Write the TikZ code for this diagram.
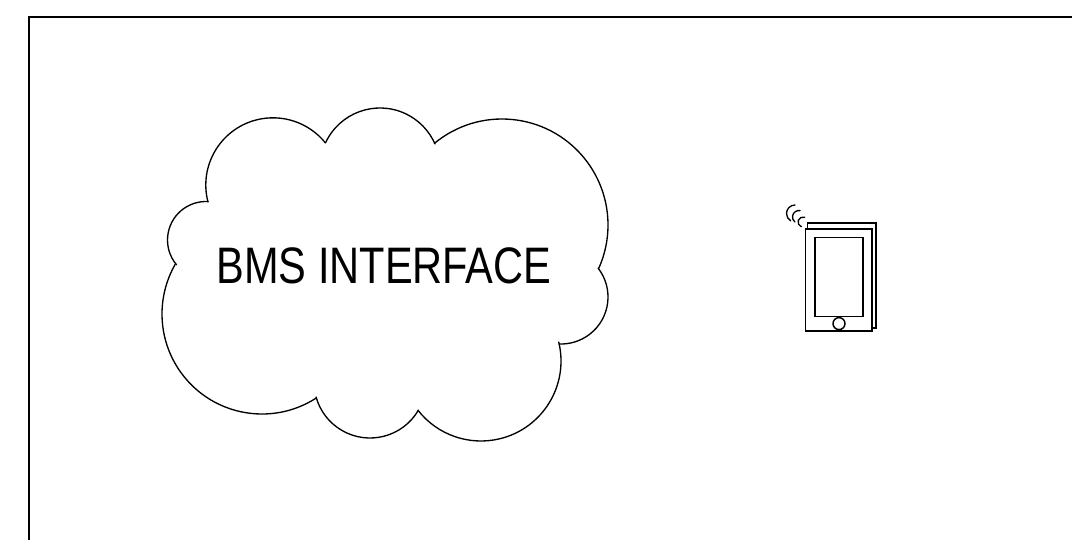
\documentclass[tikz,border=0pt]{standalone}
\usepackage{fontspec}
\usepackage{tikz}
\usetikzlibrary{positioning}
\newfontfamily\labelfont[FakeStretch=0.81]{Liberation Sans}

\begin{document}
\begin{tikzpicture}[
  frameline/.style={line width=1.45pt,black},
  lobe/.style={line width=0.95pt,black,line cap=round},
  phone/.style={line width=1.05pt,black,fill=white},
  wave/.style={line width=0.95pt,black,line cap=round},
  cloudtext/.style={inner sep=0pt,font=\labelfont\fontsize{36.5}{40}\selectfont},
]
\useasboundingbox (0,0) rectangle (26.8,13.5);

% outer frame, open to the right and below
\coordinate (frameTL) at (0.725,13.08);
\coordinate (frameTR) at (26.8,13.08);
\coordinate (frameBL) at (0.725,0);
\draw[frameline] (frameBL) -- (frameTL) -- (frameTR);

% cloud
\foreach \cx/\cy/\rad/\from/\to in {5.15/7.5/0.9625/220/87,6.825/8.875/1.68/194.7/38.8,9.5/9.3/1.5/155/23.6,12.55/7.875/2.65/129.6/-24.1,14.025/6.075/1.175/38/-92.5,12.025/4.475/2.0/13.7/-142,9.25/3.95/1.4/-30.3/-164.5,6.55/5.65/2.5/-57/-209.7}
  \draw[lobe] (\cx,\cy) ++(\from:\rad) arc[start angle=\from,end angle=\to,radius=\rad];
\node[cloudtext] (bms) at (9.6,6.85) {BMS INTERFACE};

% phone
\draw[phone] (20.19,7.925) rectangle (21.9,5.3);
\draw[phone] (20.14,7.775) rectangle (21.8,5.225);
\draw[phone] (20.375,7.56) rectangle (21.575,5.59);
\draw[phone] (20.975,5.41) circle (0.15);

% signal waves
\draw[wave] (19.875,8.1625) ++(90:0.2125) arc[start angle=90,end angle=240,radius=0.2125];
\draw[wave] (19.975,8.075) ++(80:0.1625) arc[start angle=80,end angle=230,radius=0.1625];
\draw[wave] (20.075,7.95) ++(70:0.125) arc[start angle=70,end angle=250,radius=0.125];
\end{tikzpicture}
\end{document}
